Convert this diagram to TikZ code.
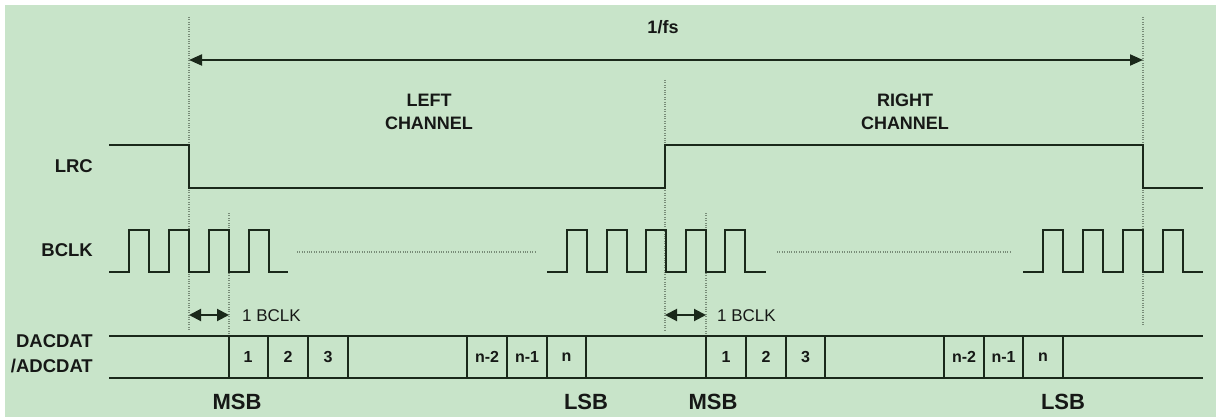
\documentclass[tikz,border=0pt]{standalone}
\usepackage{fontspec}
\setmainfont{Liberation Sans}
\usetikzlibrary{arrows.meta}
\definecolor{bggreen}{RGB}{200,228,201}
\definecolor{inkline}{RGB}{26,40,26}
\definecolor{inktext}{RGB}{22,24,22}
\definecolor{dotgrey}{RGB}{120,140,120}
\tikzset{
  wave/.style={draw=inkline, line width=2pt, line join=miter},
  dotline/.style={draw=dotgrey, line width=1.3pt, dash pattern=on 1pt off 1.4pt},
  sig/.style={font=\bfseries\fontsize{18.5}{25}\selectfont, text=inktext, anchor=east, align=right, inner sep=0pt},
  chan/.style={font=\bfseries\fontsize{18}{23}\selectfont, text=inktext, align=center, inner sep=0pt},
  bit/.style={font=\bfseries\fontsize{16}{18}\selectfont, text=inktext, inner sep=0pt},
  endlbl/.style={font=\bfseries\fontsize{22}{24}\selectfont, text=inktext, inner sep=0pt},
  clk/.style={font=\fontsize{17}{19}\selectfont, text=inktext, anchor=west, inner sep=0pt},
  bigarrow/.style={draw=inkline, line width=2pt, {Triangle[length=13pt,width=11pt]}-{Triangle[length=13pt,width=11pt]}},
  smallarrow/.style={draw=inkline, line width=2pt, {Triangle[length=12pt,width=12pt]}-{Triangle[length=12pt,width=12pt]}}
}
\begin{document}
\begin{tikzpicture}[x=1pt,y=-1pt]
\useasboundingbox (0,0) rectangle (1216,417);
\fill[white] (0,0) rectangle (1216,417);
\fill[bggreen] (5,5) rectangle (1216,417);

% dotted reference lines
\draw[dotline] (189,17) -- (189,330);
\draw[dotline] (229,213) -- (229,336);
\draw[dotline] (665,80) -- (665,330);
\draw[dotline] (706,213) -- (706,336);
\draw[dotline] (1143,17) -- (1143,325);
\draw[dotline] (297,252) -- (535,252);
\draw[dotline] (777,252) -- (1012,252);

% 1/fs arrow
\coordinate (fsL) at (189,60);
\coordinate (fsR) at (1143,60);
\draw[bigarrow] (fsL) -- (fsR);
\node[chan] (fs) at (663,27) {1/fs};

\node[chan] (left) at (429,112) {LEFT\\CHANNEL};
\node[chan] (right) at (905,112) {RIGHT\\CHANNEL};

% signal labels
\node[sig] (lrc) at (93,166) {LRC};
\node[sig] (bclk) at (93,250) {BCLK};
\node[sig] (dat) at (93,354) {DACDAT\\/ADCDAT};

% LRC waveform
\draw[wave] (109,145) -- (189,145) -- (189,188) -- (665,188) -- (665,145) -- (1143,145) -- (1143,188) -- (1203,188);

% BCLK waveforms
\draw[wave] (109,272) \foreach \k in {0,1,2,3}{ -- ({129+40*\k},272) -- ({129+40*\k},230) -- ({149+40*\k},230) -- ({149+40*\k},272)} -- (288,272);
\draw[wave] (547,272) \foreach \k in {0,1,2,3,4}{ -- ({567+39.6*\k},272) -- ({567+39.6*\k},230) -- ({587+39.6*\k},230) -- ({587+39.6*\k},272)} -- (766,272);
\draw[wave] (1023,272) \foreach \k in {0,1,2,3}{ -- ({1043+40*\k},272) -- ({1043+40*\k},230) -- ({1063+40*\k},230) -- ({1063+40*\k},272)} -- (1203,272);

% 1 BCLK arrows
\coordinate (b1L) at (189,315);
\coordinate (b1R) at (229,315);
\coordinate (b2L) at (665,315);
\coordinate (b2R) at (706,315);
\draw[smallarrow] (b1L) -- (b1R);
\draw[smallarrow] (b2L) -- (b2R);
\node[clk] (c1) at (242,316) {1 BCLK};
\node[clk] (c2) at (717,316) {1 BCLK};

% data lines
\draw[wave] (109,336) -- (1203,336);
\draw[wave] (109,378) -- (1203,378);
\foreach \x in {229,268,308,348,467,507,547,586,706,746,786,825,944,984,1023,1063}
  \draw[wave] (\x,336) -- (\x,378);

% bit labels
\node[bit] (a1) at (248,357) {1};
\node[bit] (a2) at (288,357) {2};
\node[bit] (a3) at (328,357) {3};
\node[bit] (an2) at (487,357) {n-2};
\node[bit] (an1) at (527,357) {n-1};
\node[bit] (an) at (566.5,357) {n};
\node[bit] (b1) at (726,357) {1};
\node[bit] (b2) at (766,357) {2};
\node[bit] (b3) at (805.5,357) {3};
\node[bit] (bn2) at (964,357) {n-2};
\node[bit] (bn1) at (1003.5,357) {n-1};
\node[bit] (bn) at (1043,357) {n};

\node[endlbl] (msb1) at (237,402) {MSB};
\node[endlbl] (lsb1) at (586,402) {LSB};
\node[endlbl] (msb2) at (713,402) {MSB};
\node[endlbl] (lsb2) at (1063,402) {LSB};
\end{tikzpicture}
\end{document}
